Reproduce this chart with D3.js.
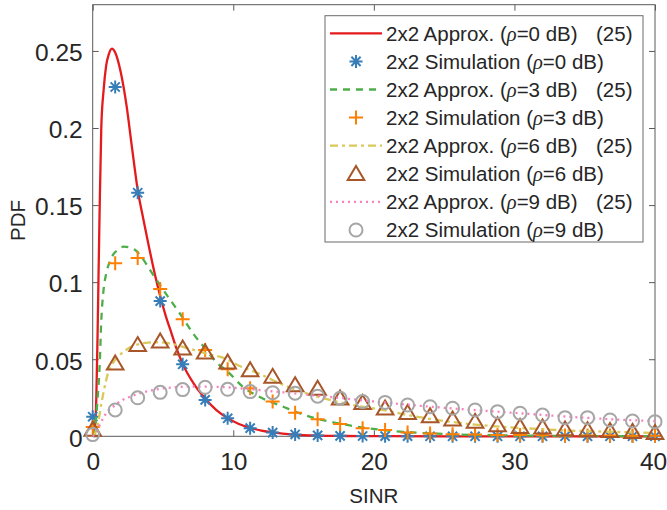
<!DOCTYPE html>
<html>
<head>
<meta charset="utf-8">
<script src="https://cdn.jsdelivr.net/npm/d3@7"></script>
<style>
  html, body { margin: 0; padding: 0; background: #fff; }
  svg { display: block; }
  text { font-family: "Liberation Sans", Arial, Helvetica, sans-serif; fill: #262626; }
</style>
</head>
<body>
<svg id="chart" width="667" height="510"></svg>
<script>
// ---------------- DATA ----------------
const xTicks = [0, 10, 20, 30, 40];
const yTicks = [0, 0.05, 0.1, 0.15, 0.2, 0.25];
const yTickLabels = ["0", "0.05", "0.1", "0.15", "0.2", "0.25"];
const xLabel = "SINR";
const yLabel = "PDF";

// Simulation sample positions
const simX = [0, 1.6, 3.2, 4.8, 6.4, 8, 9.6, 11.2, 12.8, 14.4, 16, 17.6, 19.2, 20.8, 22.4, 24, 25.6, 27.2, 28.8, 30.4, 32, 33.6, 35.2, 36.8, 38.4, 40];
const simRho0 = [0.0127, 0.2266, 0.1580, 0.0877, 0.0467, 0.0236, 0.0117, 0.0053, 0.0024, 0.0012, 0.0006, 0.0003, 0.0002, 0.0001, 0.0001, 0, 0, 0, 0, 0, 0, 0, 0, 0, 0, 0];
const simRho3 = [0.0060, 0.1123, 0.1156, 0.0955, 0.0760, 0.0560, 0.0435, 0.0312, 0.0225, 0.0153, 0.0110, 0.0080, 0.0053, 0.0041, 0.0025, 0.0018, 0.0014, 0.0011, 0.0009, 0.0008, 0.0007, 0.0006, 0.0005, 0.0005, 0.0004, 0.0004];
const simRho6 = [0.0043, 0.0474, 0.0593, 0.0616, 0.0571, 0.0545, 0.0480, 0.0430, 0.0387, 0.0333, 0.0310, 0.0247, 0.0218, 0.0182, 0.0152, 0.0132, 0.0110, 0.0095, 0.0073, 0.0062, 0.0058, 0.0045, 0.0041, 0.0036, 0.0030, 0.0023];
const simRho9 = [0.0011, 0.0171, 0.0250, 0.0285, 0.0303, 0.0318, 0.0305, 0.0290, 0.0283, 0.0280, 0.0260, 0.0247, 0.0225, 0.0220, 0.0203, 0.0192, 0.0182, 0.0171, 0.0160, 0.0150, 0.0138, 0.0121, 0.0121, 0.0106, 0.0099, 0.0095];

// Approximation curves
const apxX0 = [0, 0.07, 0.14, 0.26, 0.34, 0.41, 0.48, 0.61, 0.78, 0.95, 1.15, 1.37, 1.6, 2.0, 2.4, 2.8, 3.2, 3.6, 4.0, 4.4, 4.8, 5.2, 5.6, 6.0, 6.4, 7.2, 8.0, 8.8, 9.6, 10.4, 11.2, 12.0, 12.8, 14.4, 16, 18, 20, 25, 30, 35, 40];
const apxY0 = [0, 0.0015, 0.004, 0.026, 0.0625, 0.1015, 0.14, 0.2, 0.225, 0.24, 0.248, 0.2515, 0.249, 0.236, 0.215, 0.187, 0.16, 0.141, 0.123, 0.106, 0.091, 0.078, 0.067, 0.056, 0.047, 0.034, 0.0245, 0.017, 0.0118, 0.008, 0.0055, 0.0037, 0.0025, 0.0011, 0.0005, 0.0002, 0.0001, 0, 0, 0, 0];

const apxX3 = [0, 0.2, 0.35, 0.5, 0.61, 0.75, 0.97, 1.2, 1.44, 1.8, 2.2, 2.6, 3.0, 3.5, 4.0, 4.8, 5.4, 6.4, 7.2, 8.0, 8.8, 9.6, 10.7, 12.0, 13.6, 15.0, 17.4, 20.7, 25, 30, 35, 40];
const apxY3 = [0, 0.008, 0.025, 0.047, 0.075, 0.093, 0.106, 0.113, 0.1177, 0.121, 0.123, 0.1225, 0.121, 0.116, 0.109, 0.098, 0.09, 0.077, 0.066, 0.057, 0.048, 0.042, 0.032, 0.025, 0.019, 0.014, 0.0085, 0.004, 0.0015, 0.0005, 0.0002, 0.0001];

const apxX6 = [0, 0.13, 0.26, 0.45, 0.62, 0.85, 1.09, 1.4, 1.8, 2.3, 2.76, 3.3, 3.93, 4.6, 5.36, 6.0, 6.78, 7.6, 8.44, 9.39, 10.3, 12.0, 13.56, 15.5, 17.37, 19.0, 20.7, 22.4, 24.2, 27, 29, 31, 33.7, 36.5, 40];
const apxY6 = [0, 0.001, 0.004, 0.012, 0.0214, 0.032, 0.041, 0.047, 0.0517, 0.0555, 0.0582, 0.0598, 0.0608, 0.061, 0.0604, 0.0592, 0.0571, 0.055, 0.0528, 0.0506, 0.0463, 0.040, 0.0333, 0.027, 0.0225, 0.0195, 0.017, 0.0138, 0.011, 0.0078, 0.0062, 0.0051, 0.0038, 0.003, 0.0022];

const apxX9 = [0, 0.2, 0.38, 0.7, 1.09, 1.5, 2.05, 2.6, 3.22, 4.0, 4.8, 5.8, 7.0, 8.0, 9.0, 10.0, 11.5, 13.0, 14.5, 16.0, 18.0, 20.0, 22.4, 25.0, 27.5, 30.0, 33.7, 37.0, 40];
const apxY9 = [0, 0.002, 0.0052, 0.011, 0.0165, 0.0195, 0.0232, 0.0255, 0.0275, 0.0295, 0.0308, 0.0318, 0.0323, 0.0322, 0.032, 0.0315, 0.0303, 0.029, 0.0277, 0.0263, 0.0245, 0.0226, 0.0205, 0.0185, 0.0168, 0.0152, 0.0128, 0.011, 0.0098];

const legendLabels = [
  ["2x2 Approx. (", "ρ", "=0 dB)", "(25)"],
  ["2x2 Simulation (", "ρ", "=0 dB)", ""],
  ["2x2 Approx. (", "ρ", "=3 dB)", "(25)"],
  ["2x2 Simulation (", "ρ", "=3 dB)", ""],
  ["2x2 Approx. (", "ρ", "=6 dB)", "(25)"],
  ["2x2 Simulation (", "ρ", "=6 dB)", ""],
  ["2x2 Approx. (", "ρ", "=9 dB)", "(25)"],
  ["2x2 Simulation (", "ρ", "=9 dB)", ""]
];

// ---------------- LAYOUT / STYLE ----------------
const M = { left: 92.7, right: 655, top: 4.7, bottom: 436.3 };
const svg = d3.select("#chart");
const x = d3.scaleLinear().domain([0, 40]).range([M.left, M.right]);
const y = d3.scaleLinear().domain([0, 0.28]).range([M.bottom, M.top]);

const C = {
  red: "#e41a1c", blue: "#377eb8", green: "#4daf4a", orange: "#ff7f00",
  yellow: "#d9c95b", brown: "#a65628", pink: "#f781bf", gray: "#a6a6a6"
};

const series = [
  { type: "line", xs: apxX0, ys: apxY0, color: C.red, dash: null },
  { type: "mark", xs: simX, ys: simRho0, color: C.blue, marker: "asterisk" },
  { type: "line", xs: apxX3, ys: apxY3, color: C.green, dash: "7,6" },
  { type: "mark", xs: simX, ys: simRho3, color: C.orange, marker: "plus" },
  { type: "line", xs: apxX6, ys: apxY6, color: C.yellow, dash: "8,4,3,4" },
  { type: "mark", xs: simX, ys: simRho6, color: C.brown, marker: "triangle" },
  { type: "line", xs: apxX9, ys: apxY9, color: C.pink, dash: "2,4" },
  { type: "mark", xs: simX, ys: simRho9, color: C.gray, marker: "circle" }
];

function markerPath(kind) {
  if (kind === "asterisk") {
    const r = 6.5, d = r * Math.SQRT1_2;
    return `M${-r},0L${r},0M0,${-r}L0,${r}M${-d},${-d}L${d},${d}M${-d},${d}L${d},${-d}`;
  }
  if (kind === "plus") {
    const r = 7;
    return `M${-r},0L${r},0M0,${-r}L0,${r}`;
  }
  if (kind === "triangle") {
    return "M0,-7.8L8.3,6.2L-8.3,6.2Z";
  }
  return null;
}

function drawMarker(g, kind, color, cx, cy) {
  if (kind === "circle") {
    g.append("circle").attr("cx", cx).attr("cy", cy).attr("r", 6.5)
      .attr("fill", "none").attr("stroke", color).attr("stroke-width", 2);
  } else {
    g.append("path").attr("d", markerPath(kind))
      .attr("transform", `translate(${cx},${cy})`)
      .attr("fill", "none").attr("stroke", color)
      .attr("stroke-width", kind === "asterisk" ? 2 : 2)
      .attr("stroke-linejoin", "miter");
  }
}

// ---------------- AXES ----------------
const axisColor = "#5a5a5a";
const tickLen = 6;
const axes = svg.append("g");
axes.append("rect").attr("x", M.left).attr("y", M.top)
  .attr("width", M.right - M.left).attr("height", M.bottom - M.top)
  .attr("fill", "none").attr("stroke", axisColor).attr("stroke-width", 1);

const xAxisG = axes.append("g").attr("transform", `translate(0,${M.bottom})`)
  .call(d3.axisBottom(x).tickValues(xTicks).tickSize(-tickLen).tickPadding(20).tickFormat(d3.format("d")));
xAxisG.select(".domain").remove();
xAxisG.selectAll(".tick line").attr("stroke", axisColor);
xAxisG.selectAll(".tick text").attr("font-size", 24.5).attr("fill", "#262626")
  .attr("font-family", "Liberation Sans, Arial, sans-serif").attr("dy", "0.56em")
  .attr("dx", (d, i) => (i === xTicks.length - 1 ? -2 : 0));

const xTopG = axes.append("g").attr("transform", `translate(0,${M.top})`)
  .call(d3.axisTop(x).tickValues(xTicks).tickSize(-tickLen).tickFormat(""));
xTopG.select(".domain").remove();
xTopG.selectAll(".tick line").attr("stroke", axisColor);

const yAxisG = axes.append("g").attr("transform", `translate(${M.left},0)`)
  .call(d3.axisLeft(y).tickValues(yTicks).tickSize(-tickLen).tickPadding(10)
    .tickFormat((d, i) => yTickLabels[i]));
yAxisG.select(".domain").remove();
yAxisG.selectAll(".tick line").attr("stroke", axisColor);
yAxisG.selectAll(".tick text").attr("font-size", 24.5).attr("fill", "#262626")
  .attr("font-family", "Liberation Sans, Arial, sans-serif").attr("dy", "0.4em");

const yRightG = axes.append("g").attr("transform", `translate(${M.right},0)`)
  .call(d3.axisRight(y).tickValues(yTicks).tickSize(-tickLen).tickFormat(""));
yRightG.select(".domain").remove();
yRightG.selectAll(".tick line").attr("stroke", axisColor);

svg.append("text").attr("x", (M.left + M.right) / 2).attr("y", 503)
  .attr("text-anchor", "middle").attr("font-size", 20.5).text(xLabel);
svg.append("text").attr("transform", `translate(25,${(M.top + M.bottom) / 2}) rotate(-90)`)
  .attr("text-anchor", "middle").attr("font-size", 20.5).text(yLabel);

// ---------------- SERIES ----------------
const plot = svg.append("g");
const lineGen = d3.line().x(d => x(d[0])).y(d => y(d[1])).curve(d3.curveMonotoneX);
series.forEach(s => {
  const pts = s.xs.map((v, i) => [v, s.ys[i]]);
  if (s.type === "line") {
    plot.append("path").datum(pts).attr("d", lineGen)
      .attr("fill", "none").attr("stroke", s.color).attr("stroke-width", 2.3)
      .attr("stroke-dasharray", s.dash);
  } else {
    const g = plot.append("g");
    pts.forEach(p => drawMarker(g, s.marker, s.color, x(p[0]), y(p[1])));
  }
});

// ---------------- LEGEND ----------------
const L = { x: 325, y: 15.7, w: 318, h: 226.3, row0: 33.3, rowH: 28.1 };
const leg = svg.append("g");
leg.append("rect").attr("x", L.x).attr("y", L.y).attr("width", L.w).attr("height", L.h)
  .attr("fill", "#fff").attr("stroke", "#6a6a6a").attr("stroke-width", 1);
series.forEach((s, i) => {
  const cy = L.row0 + i * L.rowH;
  if (s.type === "line") {
    leg.append("line").attr("x1", 330).attr("x2", 382).attr("y1", cy).attr("y2", cy)
      .attr("stroke", s.color).attr("stroke-width", 2.3).attr("stroke-dasharray", s.dash);
  } else {
    drawMarker(leg, s.marker, s.color, 356, cy);
  }
  const lab = legendLabels[i];
  const t = leg.append("text").attr("x", 386).attr("y", cy + 7.3).attr("font-size", 20.5);
  t.append("tspan").text(lab[0]);
  t.append("tspan").attr("font-style", "italic")
    .attr("font-family", "Liberation Serif, serif").text(lab[1]);
  t.append("tspan").text(lab[2]);
  if (lab[3]) t.append("tspan").attr("x", 596).text(lab[3]);
});
</script>
</body>
</html>
